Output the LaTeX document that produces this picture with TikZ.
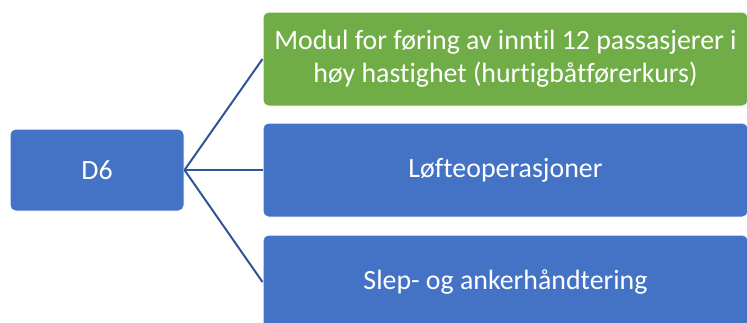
\documentclass[tikz,border=0pt]{standalone}
\usepackage{fontspec}
\setmainfont[Ligatures={TeX,NoCommon}]{Carlito}
\definecolor{boxblue}{HTML}{4472C4}
\definecolor{boxgreen}{HTML}{70AD47}
\definecolor{linkblue}{HTML}{2F5597}
\tikzset{
  box/.style={draw=white, line width=0.75pt, rounded corners=4pt, text=white, align=center,
    inner sep=0pt, font=\fontsize{20.9pt}{24.75pt}\selectfont},
  link/.style={draw=linkblue, line width=1.5pt}
}
\begin{document}
\begin{tikzpicture}[x=0.75pt,y=-0.75pt]
\useasboundingbox (0,0) rectangle (747,322);
\clip (0,0) rectangle (747,322);
\node[box, fill=boxblue, minimum width=130.5pt, minimum height=61.5pt] (d6) at (97,170) {D6};
\node[box, fill=boxgreen, minimum width=363.75pt, minimum height=70.5pt] (m1) at (505.5,59)
  {Modul for føring av inntil 12 passasjerer i\\høy hastighet (hurtigbåtførerkurs)};
\node[box, fill=boxblue, minimum width=363.75pt, minimum height=70.5pt] (m2) at (505.5,170) {Løfteoperasjoner};
\node[box, fill=boxblue, minimum width=363.75pt, minimum height=70.5pt] (m3) at (505.5,282) {Slep- og ankerhåndtering};
\coordinate (hub) at (d6.east);
\draw[link] (hub) -- (m1.west);
\draw[link] (hub) -- (m2.west);
\draw[link] (hub) -- (m3.west);
\end{tikzpicture}
\end{document}
